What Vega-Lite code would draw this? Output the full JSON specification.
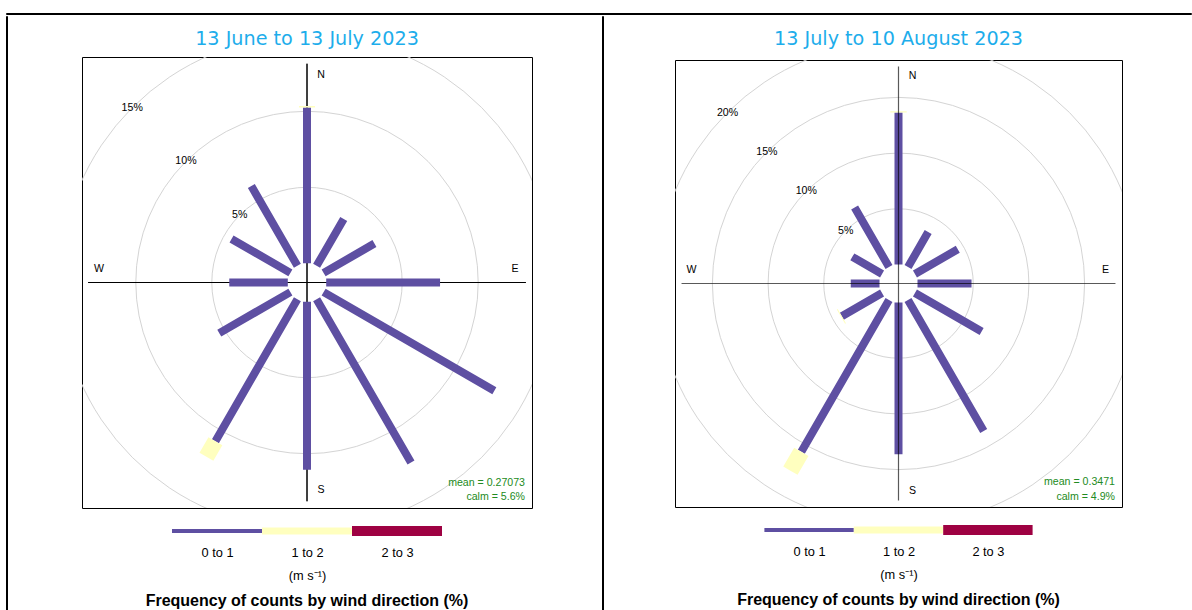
{
  "$schema": "https://vega.github.io/schema/vega-lite/v6.json",
  "background": "white",
  "padding": {"left": 5, "top": 12, "right": 0, "bottom": 0},
  "autosize": {"type": "pad"},
  "config": {"view": {"stroke": null}, "font": "Liberation Sans"},
  "datasets": {
    "bars1": [
      {"dir": 0, "bin": "0 to 1", "from": 0, "to": 10.25},
      {"dir": 0, "bin": "1 to 2", "from": 10.25, "to": 10.35},
      {"dir": 30, "bin": "0 to 1", "from": 0, "to": 3.57},
      {"dir": 60, "bin": "0 to 1", "from": 0, "to": 3.86},
      {"dir": 90, "bin": "0 to 1", "from": 0, "to": 7.49},
      {"dir": 120, "bin": "0 to 1", "from": 0, "to": 12.97},
      {"dir": 150, "bin": "0 to 1", "from": 0, "to": 12.42},
      {"dir": 180, "bin": "0 to 1", "from": 0, "to": 11.06},
      {"dir": 210, "bin": "0 to 1", "from": 0, "to": 10.79},
      {"dir": 210, "bin": "1 to 2", "from": 10.79, "to": 11.97},
      {"dir": 240, "bin": "0 to 1", "from": 0, "to": 5.4},
      {"dir": 270, "bin": "0 to 1", "from": 0, "to": 3.85},
      {"dir": 300, "bin": "0 to 1", "from": 0, "to": 4.47},
      {"dir": 330, "bin": "0 to 1", "from": 0, "to": 6.06}
    ],
    "bars2": [
      {"dir": 0, "bin": "0 to 1", "from": 0, "to": 13.64},
      {"dir": 0, "bin": "1 to 2", "from": 13.64, "to": 13.76},
      {"dir": 30, "bin": "0 to 1", "from": 0, "to": 3.62},
      {"dir": 60, "bin": "0 to 1", "from": 0, "to": 4.44},
      {"dir": 90, "bin": "0 to 1", "from": 0, "to": 4.85},
      {"dir": 120, "bin": "0 to 1", "from": 0, "to": 6.91},
      {"dir": 150, "bin": "0 to 1", "from": 0, "to": 13.59},
      {"dir": 180, "bin": "0 to 1", "from": 0, "to": 13.62},
      {"dir": 210, "bin": "0 to 1", "from": 0, "to": 15.74},
      {"dir": 210, "bin": "1 to 2", "from": 15.74, "to": 17.7},
      {"dir": 240, "bin": "0 to 1", "from": 0, "to": 4.17},
      {"dir": 240, "bin": "1 to 2", "from": 4.17, "to": 4.26},
      {"dir": 270, "bin": "0 to 1", "from": 0, "to": 2.58},
      {"dir": 300, "bin": "0 to 1", "from": 0, "to": 3.08},
      {"dir": 330, "bin": "0 to 1", "from": 0, "to": 6.17}
    ],
    "bins": [
      {"bin": "0 to 1", "lo": 0, "hi": 1},
      {"bin": "1 to 2", "lo": 1, "hi": 2},
      {"bin": "2 to 3", "lo": 2, "hi": 3}
    ],
    "compassNS": [{"dir": 0, "lab": "N"}, {"dir": 180, "lab": "S"}],
    "compassEW": [{"dir": 90, "lab": "E"}, {"dir": 270, "lab": "W"}],
    "axes": [{"dir": 0}, {"dir": 90}, {"dir": 180}, {"dir": 270}]
  },
  "spacing": 0,
  "resolve": {"scale": {"radius": "independent", "theta": "independent", "strokeWidth": "independent", "color": "independent"}},
  "vconcat": [
    {"width": 1185, "height": 1, "view": {"stroke": "black", "strokeWidth": 1}, "data": {"values": []}, "mark": "point", "encoding": {}},
    {
      "spacing": 0,
      "resolve": {"scale": {"radius": "independent", "theta": "independent", "strokeWidth": "independent", "color": "independent"}},
      "hconcat": [
        {"width": 1, "height": 594, "view": {"stroke": "black", "strokeWidth": 1}, "data": {"values": []}, "mark": "point", "encoding": {}},
        {"width": 73, "height": 1, "data": {"values": []}, "mark": "point", "encoding": {}},
        {
          "spacing": 12,
          "resolve": {"scale": {"radius": "independent", "theta": "independent", "strokeWidth": "independent", "color": "independent"}},
          "vconcat": [
            {"width": 1, "height": 1, "data": {"values": []}, "mark": "point", "encoding": {}},
            {
              "width": 450, "height": 451,
              "view": {"stroke": "black", "strokeWidth": 1},
              "title": {"text": "13 June to 13 July 2023", "font": "DejaVu Sans", "fontSize": 19.2, "fontWeight": "normal", "color": "#1DADEB", "anchor": "middle", "baseline": "alphabetic", "offset": -7},
              "layer": [
                {
                  "data": {"values": [{"ring": 5, "label": "5%"}, {"ring": 10, "label": "10%"}, {"ring": 15, "label": "15%"}]},
                  "mark": {"type": "arc", "filled": false, "stroke": "#d4d4d4", "strokeWidth": 1, "theta": 0, "theta2": 6.2832, "radius2": 0, "clip": true},
                  "encoding": {"radius": {"field": "ring", "type": "quantitative", "stack": null, "scale": {"type": "linear", "zero": false, "nice": false, "domain": [0, 15], "range": [19.2, 247.2]}}}
                },
                {
                  "data": {"name": "axes"},
                  "mark": {"type": "arc", "filled": false, "stroke": "black", "strokeWidth": 1, "strokeJoin": "bevel", "radius2": 0},
                  "encoding": {
                    "theta": {"field": "dir", "type": "quantitative", "stack": null, "scale": {"type": "linear", "zero": false, "nice": false, "domain": [0, 360], "range": [0, 6.283185307179586]}},
                    "theta2": {"field": "dir"},
                    "radius": {"datum": 13.13, "type": "quantitative"}
                  }
                },
                {
                  "data": {"name": "bars1"},
                  "mark": {"type": "arc", "filled": false, "strokeJoin": "bevel"},
                  "encoding": {
                    "theta": {"field": "dir", "type": "quantitative", "stack": null},
                    "theta2": {"field": "dir"},
                    "radius": {"field": "to", "type": "quantitative", "stack": null},
                    "radius2": {"field": "from"},
                    "color": {"field": "bin", "type": "nominal", "scale": {"domain": ["0 to 1", "1 to 2", "2 to 3"], "range": ["#5E4FA2", "#FFFFBF", "#9E0142"]}, "legend": null},
                    "strokeWidth": {"field": "bin", "type": "ordinal", "scale": {"domain": ["0 to 1", "1 to 2", "2 to 3"], "range": [8, 24, 36]}, "legend": null}
                  }
                },
                {
                  "data": {"values": [{"ring": 5, "label": "5%"}, {"ring": 10, "label": "10%"}, {"ring": 15, "label": "15%"}]},
                  "mark": {"type": "text", "font": "Liberation Sans", "fontSize": 10.6, "color": "black", "align": "center", "baseline": "middle"},
                  "encoding": {"theta": {"datum": 315, "type": "quantitative"}, "radius": {"field": "ring", "type": "quantitative"}, "text": {"field": "label"}}
                },
                {
                  "data": {"name": "compassNS"},
                  "mark": {"type": "text", "font": "Liberation Sans", "fontSize": 10.6, "color": "black", "align": "center", "baseline": "middle", "dx": 14},
                  "encoding": {"theta": {"field": "dir", "type": "quantitative"}, "radius": {"datum": 12.42, "type": "quantitative"}, "text": {"field": "lab"}}
                },
                {
                  "data": {"name": "compassEW"},
                  "mark": {"type": "text", "font": "Liberation Sans", "fontSize": 10.6, "color": "black", "align": "center", "baseline": "middle", "dy": -14},
                  "encoding": {"theta": {"field": "dir", "type": "quantitative"}, "radius": {"datum": 12.42, "type": "quantitative"}, "text": {"field": "lab"}}
                },
                {
                  "data": {"values": [{"t": "mean = 0.27073"}]},
                  "mark": {"type": "text", "font": "Liberation Sans", "fontSize": 10.6, "color": "#228B22", "align": "right", "baseline": "middle", "dx": -7, "dy": -25},
                  "encoding": {"x": {"value": "width"}, "y": {"value": "height"}, "text": {"field": "t"}}
                },
                {
                  "data": {"values": [{"t": "calm = 5.6%"}]},
                  "mark": {"type": "text", "font": "Liberation Sans", "fontSize": 10.6, "color": "#228B22", "align": "right", "baseline": "middle", "dx": -7, "dy": -11},
                  "encoding": {"x": {"value": "width"}, "y": {"value": "height"}, "text": {"field": "t"}}
                }
              ]
            },
            {
              "width": 450, "height": 20,
              "data": {"name": "bins"},
              "mark": {"type": "rule", "strokeCap": "butt"},
              "encoding": {
                "x": {"field": "lo", "type": "quantitative", "scale": {"domain": [-1, 4], "nice": false, "zero": false},
                  "axis": {"values": [0.5, 1.5, 2.5], "labelExpr": "floor(datum.value) + ' to ' + ceil(datum.value)", "domain": false, "ticks": false, "grid": false, "labelFont": "Liberation Sans", "labelFontSize": 12.8, "labelColor": "black", "labelPadding": 5, "labelFlush": false, "labelOverlap": false, "title": "(m s⁻¹)", "titleFont": "Liberation Sans", "titleFontSize": 12.8, "titleFontWeight": "normal", "titleColor": "black", "titlePadding": 11}},
                "x2": {"field": "hi"},
                "color": {"field": "bin", "type": "nominal", "scale": {"domain": ["0 to 1", "1 to 2", "2 to 3"], "range": ["#5E4FA2", "#FFFFBF", "#9E0142"]}, "legend": null},
                "strokeWidth": {"field": "bin", "type": "ordinal", "scale": {"domain": ["0 to 1", "1 to 2", "2 to 3"], "range": [4, 10, 17]}, "legend": null}
              },
              "title": {"text": "Frequency of counts by wind direction (%)", "orient": "bottom", "anchor": "middle", "font": "Liberation Sans", "fontSize": 16, "fontWeight": "bold", "color": "black", "offset": 10}
            }
          ]
        },
        {"width": 68, "height": 1, "data": {"values": []}, "mark": "point", "encoding": {}},
        {"width": 1, "height": 594, "view": {"stroke": "black", "strokeWidth": 1}, "data": {"values": []}, "mark": "point", "encoding": {}},
        {"width": 70, "height": 1, "data": {"values": []}, "mark": "point", "encoding": {}},
        {
          "spacing": 12,
          "resolve": {"scale": {"radius": "independent", "theta": "independent", "strokeWidth": "independent", "color": "independent"}},
          "vconcat": [
            {"width": 1, "height": 1, "data": {"values": []}, "mark": "point", "encoding": {}},
            {
              "width": 447, "height": 447,
              "view": {"stroke": "black", "strokeWidth": 1},
              "title": {"text": "13 July to 10 August 2023", "font": "DejaVu Sans", "fontSize": 19.2, "fontWeight": "normal", "color": "#1DADEB", "anchor": "middle", "baseline": "alphabetic", "offset": -4.5},
              "layer": [
                {
                  "data": {"values": [{"ring": 5, "label": "5%"}, {"ring": 10, "label": "10%"}, {"ring": 15, "label": "15%"}, {"ring": 20, "label": "20%"}]},
                  "mark": {"type": "arc", "filled": false, "stroke": "#d4d4d4", "strokeWidth": 1, "theta": 0, "theta2": 6.2832, "radius2": 0, "clip": true},
                  "encoding": {"radius": {"field": "ring", "type": "quantitative", "stack": null, "scale": {"type": "linear", "zero": false, "nice": false, "domain": [0, 20], "range": [19, 241.8]}}}
                },
                {
                  "data": {"name": "bars2"},
                  "mark": {"type": "arc", "filled": false, "strokeJoin": "bevel"},
                  "encoding": {
                    "theta": {"field": "dir", "type": "quantitative", "stack": null, "scale": {"type": "linear", "zero": false, "nice": false, "domain": [0, 360], "range": [0, 6.283185307179586]}},
                    "theta2": {"field": "dir"},
                    "radius": {"field": "to", "type": "quantitative", "stack": null},
                    "radius2": {"field": "from"},
                    "color": {"field": "bin", "type": "nominal", "scale": {"domain": ["0 to 1", "1 to 2", "2 to 3"], "range": ["#5E4FA2", "#FFFFBF", "#9E0142"]}, "legend": null},
                    "strokeWidth": {"field": "bin", "type": "ordinal", "scale": {"domain": ["0 to 1", "1 to 2", "2 to 3"], "range": [8, 25, 36]}, "legend": null}
                  }
                },
                {
                  "data": {"name": "axes"},
                  "mark": {"type": "arc", "filled": false, "stroke": "black", "strokeOpacity": 0.65, "strokeWidth": 1.2, "strokeJoin": "bevel", "radius2": 0},
                  "encoding": {
                    "theta": {"field": "dir", "type": "quantitative", "stack": null},
                    "theta2": {"field": "dir"},
                    "radius": {"datum": 17.77, "type": "quantitative"}
                  }
                },
                {
                  "data": {"values": [{"ring": 5, "label": "5%"}, {"ring": 10, "label": "10%"}, {"ring": 15, "label": "15%"}, {"ring": 20, "label": "20%"}]},
                  "mark": {"type": "text", "font": "Liberation Sans", "fontSize": 10.6, "color": "black", "align": "center", "baseline": "middle"},
                  "encoding": {"theta": {"datum": 315, "type": "quantitative"}, "radius": {"field": "ring", "type": "quantitative"}, "text": {"field": "label"}}
                },
                {
                  "data": {"name": "compassNS"},
                  "mark": {"type": "text", "font": "Liberation Sans", "fontSize": 10.6, "color": "black", "align": "center", "baseline": "middle", "dx": 14},
                  "encoding": {"theta": {"field": "dir", "type": "quantitative"}, "radius": {"datum": 16.88, "type": "quantitative"}, "text": {"field": "lab"}}
                },
                {
                  "data": {"name": "compassEW"},
                  "mark": {"type": "text", "font": "Liberation Sans", "fontSize": 10.6, "color": "black", "align": "center", "baseline": "middle", "dy": -14},
                  "encoding": {"theta": {"field": "dir", "type": "quantitative"}, "radius": {"datum": 16.88, "type": "quantitative"}, "text": {"field": "lab"}}
                },
                {
                  "data": {"values": [{"t": "mean = 0.3471"}]},
                  "mark": {"type": "text", "font": "Liberation Sans", "fontSize": 10.6, "color": "#228B22", "align": "right", "baseline": "middle", "dx": -7, "dy": -25},
                  "encoding": {"x": {"value": "width"}, "y": {"value": "height"}, "text": {"field": "t"}}
                },
                {
                  "data": {"values": [{"t": "calm = 4.9%"}]},
                  "mark": {"type": "text", "font": "Liberation Sans", "fontSize": 10.6, "color": "#228B22", "align": "right", "baseline": "middle", "dx": -7, "dy": -10},
                  "encoding": {"x": {"value": "width"}, "y": {"value": "height"}, "text": {"field": "t"}}
                }
              ]
            },
            {
              "width": 447, "height": 20,
              "data": {"name": "bins"},
              "mark": {"type": "rule", "strokeCap": "butt"},
              "encoding": {
                "x": {"field": "lo", "type": "quantitative", "scale": {"domain": [-1, 4], "nice": false, "zero": false},
                  "axis": {"values": [0.5, 1.5, 2.5], "labelExpr": "floor(datum.value) + ' to ' + ceil(datum.value)", "domain": false, "ticks": false, "grid": false, "labelFont": "Liberation Sans", "labelFontSize": 12.8, "labelColor": "black", "labelPadding": 5, "labelFlush": false, "labelOverlap": false, "title": "(m s⁻¹)", "titleFont": "Liberation Sans", "titleFontSize": 12.8, "titleFontWeight": "normal", "titleColor": "black", "titlePadding": 11}},
                "x2": {"field": "hi"},
                "color": {"field": "bin", "type": "nominal", "scale": {"domain": ["0 to 1", "1 to 2", "2 to 3"], "range": ["#5E4FA2", "#FFFFBF", "#9E0142"]}, "legend": null},
                "strokeWidth": {"field": "bin", "type": "ordinal", "scale": {"domain": ["0 to 1", "1 to 2", "2 to 3"], "range": [4, 10, 17]}, "legend": null}
              },
              "title": {"text": "Frequency of counts by wind direction (%)", "orient": "bottom", "anchor": "middle", "font": "Liberation Sans", "fontSize": 16, "fontWeight": "bold", "color": "black", "offset": 10}
            }
          ]
        }
      ]
    }
  ]
}
